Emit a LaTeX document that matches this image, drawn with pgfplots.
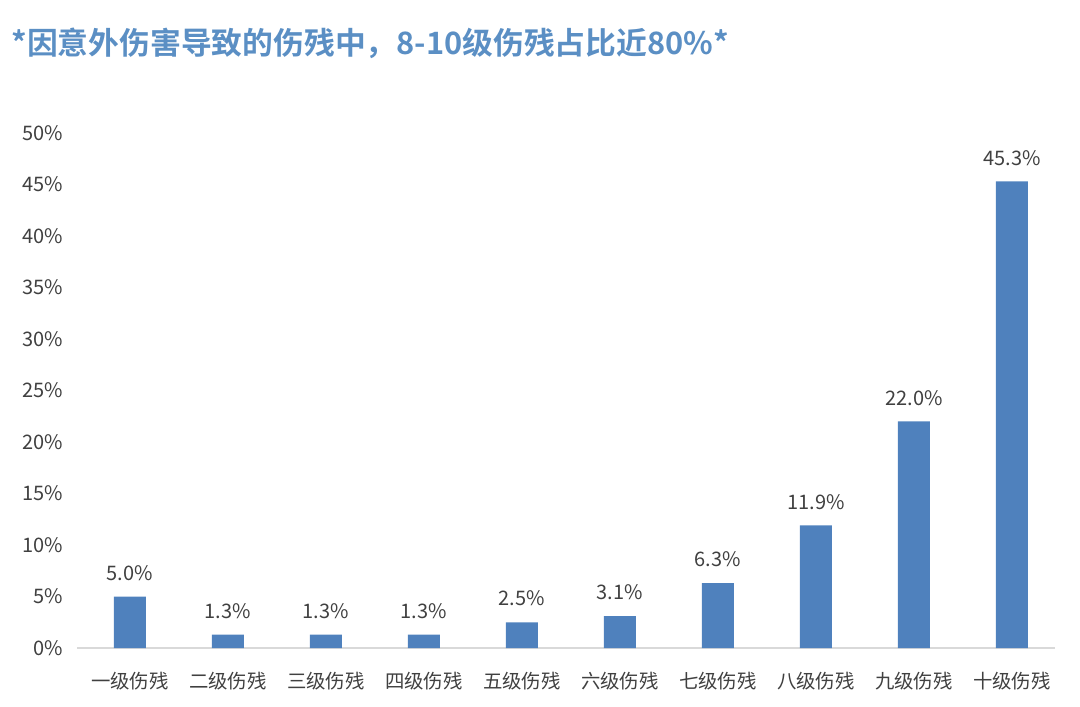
\documentclass[border=0pt]{standalone}
\usepackage{fontspec}
\setmainfont{Noto Sans CJK SC}[BoldFont=* Bold]
\usepackage{pgfplots}
\pgfplotsset{compat=1.18}
\definecolor{barblue}{HTML}{4F81BD}
\definecolor{titleblue}{HTML}{5B8FC4}
\definecolor{txt}{HTML}{404040}
\begin{document}
\begin{tikzpicture}
\path[use as bounding box] (0,0) rectangle (540pt,353pt);
\node[anchor=west,text=titleblue,font=\fontsize{15.4}{17}\selectfont\bfseries,inner sep=0pt] at (5.5pt,331.5pt) {*因意外伤害导致的伤残中，8-10级伤残占比近80\%*};
\begin{axis}[
  at={(38.5pt,29pt)}, anchor=south west,
  scale only axis, width=489pt, height=257.5pt,
  xmin=-0.54, xmax=9.44, ymin=0, ymax=50,
  ytick={0,5,...,50},
  yticklabel={\pgfmathprintnumber{\tick}\%},
  /pgf/number format/assume math mode=true,
  xtick=data,
  xticklabels={一级伤残,二级伤残,三级伤残,四级伤残,五级伤残,六级伤残,七级伤残,八级伤残,九级伤残,十级伤残},
  axis x line=bottom, axis y line=left,
  x axis line style={draw=black!15, line width=0.8pt, -},
  y axis line style={draw=none},
  major tick length=0pt,
  tick label style={text=txt},
  xticklabel style={yshift=-8.5pt, font=\fontsize{9.7}{11}\selectfont},
  yticklabel style={xshift=-3.5pt, font=\fontsize{10}{11}\selectfont},
  ybar, bar width=16pt,
  nodes near coords={\pgfmathprintnumber[fixed,fixed zerofill,precision=1]{\pgfplotspointmeta}\%},
  nodes near coords style={text=txt, font=\fontsize{10}{11}\selectfont, /pgf/number format/assume math mode=true, yshift=4.5pt},
  clip=false,
]
\addplot[fill=barblue, draw=none] coordinates {
(0,5.0) (1,1.3) (2,1.3) (3,1.3) (4,2.5) (5,3.1) (6,6.3) (7,11.9) (8,22.0) (9,45.3)
};
\end{axis}
\end{tikzpicture}
\end{document}
